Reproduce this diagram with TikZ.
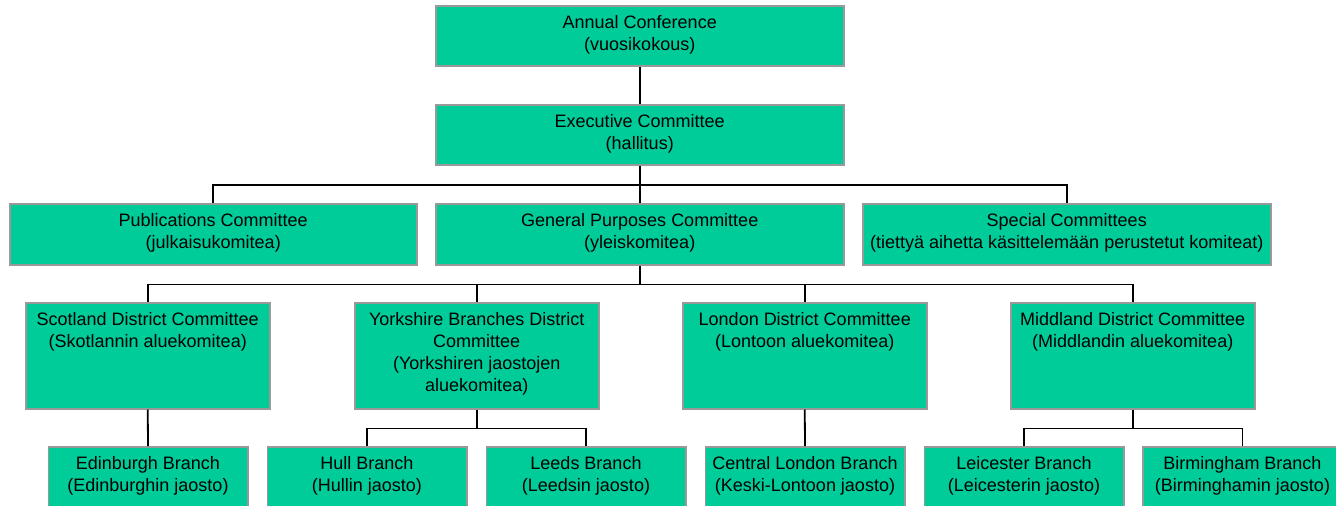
\documentclass[tikz,border=0pt]{standalone}
\usepackage{fontspec}
\setmainfont{Liberation Sans}
\definecolor{boxfill}{HTML}{00CC99}
\definecolor{boxline}{HTML}{999999}
\tikzset{
  orgbox/.style={draw=boxline, line width=1.5pt, fill=boxfill, rectangle, inner sep=0pt, anchor=north west},
  wide/.style={minimum width=408pt, minimum height=60pt},
  district/.style={minimum width=244pt, minimum height=106pt},
  branch/.style={minimum width=199.5pt, minimum height=64pt},
  orgtext/.style={anchor=north, inner sep=0pt, align=center, font=\fontsize{18}{22}\selectfont, execute at begin node=\strut},
  link/.style={draw=black, line width=1.8pt}
}
\begin{document}
\begin{tikzpicture}[x=1pt, y=-1pt]
\useasboundingbox (0,0) rectangle (1336,506);
\clip (0,0) rectangle (1336,506);
% boxes
\node[orgbox, wide] (annual) at (435,5) {};
\node[orgbox, wide] (exec) at (435,104) {};
\node[orgbox, minimum width=407pt, minimum height=61pt] (pub) at (9,203) {};
\node[orgbox, minimum width=408pt, minimum height=61pt] (gen) at (435,203) {};
\node[orgbox, minimum width=408pt, minimum height=61pt] (spec) at (862,203) {};
\node[orgbox, district] (scot) at (25,302) {};
\node[orgbox, district] (york) at (354,302) {};
\node[orgbox, district] (lon) at (682,302) {};
\node[orgbox, district] (mid) at (1010,302) {};
\node[orgbox, branch] (edin) at (47.5,446) {};
\node[orgbox, branch] (hull) at (266.5,446) {};
\node[orgbox, branch] (leeds) at (485.5,446) {};
\node[orgbox, branch] (cent) at (704.5,446) {};
\node[orgbox, branch] (leic) at (923.5,446) {};
\node[orgbox, branch] (birm) at (1142,446) {};
% texts
\node[orgtext] (annualt) at ([yshift=-10.6pt]annual.north) {Annual Conference\\(vuosikokous)};
\node[orgtext] (exect) at ([yshift=-10.6pt]exec.north) {Executive Committee\\(hallitus)};
\node[orgtext] (pubt) at ([yshift=-10.6pt]pub.north) {Publications Committee\\(julkaisukomitea)};
\node[orgtext] (gent) at ([yshift=-10.6pt]gen.north) {General Purposes Committee\\(yleiskomitea)};
\node[orgtext] (spect) at ([yshift=-10.6pt]spec.north) {Special Committees\\(tiettyä aihetta käsittelemään perustetut komiteat)};
\node[orgtext] (scott) at ([yshift=-10.6pt]scot.north) {Scotland District Committee\\(Skotlannin aluekomitea)};
\node[orgtext] (yorkt) at ([yshift=-10.6pt]york.north) {Yorkshire Branches District\\Committee\\(Yorkshiren jaostojen\\aluekomitea)};
\node[orgtext] (lont) at ([yshift=-10.6pt]lon.north) {London District Committee\\(Lontoon aluekomitea)};
\node[orgtext] (midt) at ([yshift=-10.6pt]mid.north) {Middland District Committee\\(Middlandin aluekomitea)};
\node[orgtext] (edint) at ([yshift=-10.6pt]edin.north) {Edinburgh Branch\\(Edinburghin jaosto)};
\node[orgtext] (hullt) at ([yshift=-10.6pt]hull.north) {Hull Branch\\(Hullin jaosto)};
\node[orgtext] (leedst) at ([yshift=-10.6pt]leeds.north) {Leeds Branch\\(Leedsin jaosto)};
\node[orgtext] (centt) at ([yshift=-10.6pt]cent.north) {Central London Branch\\(Keski-Lontoon jaosto)};
\node[orgtext] (leict) at ([yshift=-10.6pt]leic.north) {Leicester Branch\\(Leicesterin jaosto)};
\node[orgtext] (birmt) at ([yshift=-10.6pt]birm.north) {Birmingham Branch\\(Birminghamin jaosto)};
% junctions
\coordinate (j1) at ([yshift=-19.5pt]exec.south);
\coordinate (j2) at ([yshift=-19pt]gen.south);
\coordinate (j3) at ([yshift=-19pt]york.south);
\coordinate (j4) at ([yshift=-19pt]mid.south);
% connectors
\draw[link] (annual.south) -- (exec.north);
\draw[link] (exec.south) -- (gen.north);
\draw[link] (pub.north) |- (j1) -| (spec.north);
\draw[link] (gen.south) -- (j2);
\draw[link] (scot.north) |- (j2) -| (mid.north);
\draw[link] (york.north) |- (j2);
\draw[link] (lon.north) |- (j2);
\draw[link] (scot.south) -- (edin.north);
\draw[link] (york.south) -- (j3);
\draw[link] (hull.north) |- (j3) -| (leeds.north);
\draw[link] (lon.south) -- (cent.north);
\draw[link] (mid.south) -- (j4);
\draw[link] (leic.north) |- (j4) -| (birm.north);
\end{tikzpicture}
\end{document}
